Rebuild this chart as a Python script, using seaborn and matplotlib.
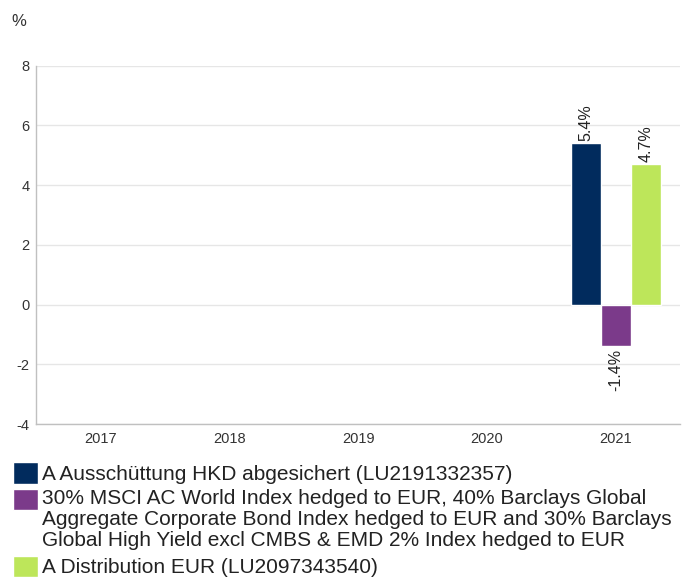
import pandas as pd
import seaborn as sns
import matplotlib
matplotlib.use('Agg')
import matplotlib.pyplot as plt
from matplotlib.patches import Rectangle
from matplotlib.legend_handler import HandlerPatch

years = ['2017', '2018', '2019', '2020', '2021']
fund_hkd = [None, None, None, None, 5.4]
benchmark = [None, None, None, None, -1.4]
fund_eur = [None, None, None, None, 4.7]

names = ['A Ausschüttung HKD abgesichert (LU2191332357)',
         '30% MSCI AC World Index hedged to EUR, 40% Barclays Global\n'
         'Aggregate Corporate Bond Index hedged to EUR and 30% Barclays\n'
         'Global High Yield excl CMBS & EMD 2% Index hedged to EUR',
         'A Distribution EUR (LU2097343540)']
colors = ['#012b5d', '#7b3a8a', '#bde65a']

rows = []
for name, vals in zip(names, [fund_hkd, benchmark, fund_eur]):
    for y, v in zip(years, vals):
        rows.append({'year': y, 'series': name, 'value': v})
df = pd.DataFrame(rows)
df['value'] = df['value'].astype(float)

sns.set_style('whitegrid')
plt.rcParams['font.family'] = ['Liberation Sans', 'DejaVu Sans']
plt.rcParams['axes.unicode_minus'] = False

fig = plt.figure(figsize=(6.85, 5.77), dpi=100)
ax = fig.add_axes([0.053, 0.265, 0.940, 0.621])

sns.barplot(data=df, x='year', y='value', hue='series', order=years,
            hue_order=names, palette=colors, width=0.7, saturation=1,
            errorbar=None, ax=ax)

for cont in ax.containers:
    ax.bar_label(cont, fmt='%.1f%%', rotation=90, padding=1.5, fontsize=11.5,
                 color='#222222')

ax.set_ylim(-4, 8)
ax.set_yticks([-4, -2, 0, 2, 4, 6, 8])
ax.set_xlim(-0.5, 4.5)
ax.set_xlabel('')
ax.set_ylabel('')
ax.grid(axis='y', color='#e6e6e6', linewidth=1)
ax.grid(axis='x', visible=False)
for s in ['top', 'right']:
    ax.spines[s].set_visible(False)
for s in ['left', 'bottom']:
    ax.spines[s].set_visible(True)
    ax.spines[s].set_color('#c0c0c0')
    ax.spines[s].set_linewidth(1)
ax.tick_params(length=0, labelsize=10.5, labelcolor='#333333')
ax.tick_params(axis='y', pad=5)
ax.tick_params(axis='x', pad=6)

fig.text(0.016, 0.963, '%', fontsize=12, color='#333333', va='center')


# put the square of the wrapped entry next to its first line
def top_square(legend, orig_handle, xdescent, ydescent, width, height, fontsize):
    return Rectangle((-xdescent, -ydescent + 14.8), width, height)


handles, labels = ax.get_legend_handles_labels()
ax.get_legend().remove()
leg = fig.legend(handles, labels, loc='upper left', bbox_to_anchor=(0.019, 0.199),
                 frameon=False, fontsize=15, handlelength=1.2, handleheight=1.2,
                 handletextpad=0.2, labelspacing=0.25, borderaxespad=0,
                 borderpad=0,
                 handler_map={handles[1]: HandlerPatch(patch_func=top_square)})
for t in leg.get_texts():
    t.set_linespacing(1.14)
    t.set_color('#222222')

fig.savefig('out.png', dpi=100)
